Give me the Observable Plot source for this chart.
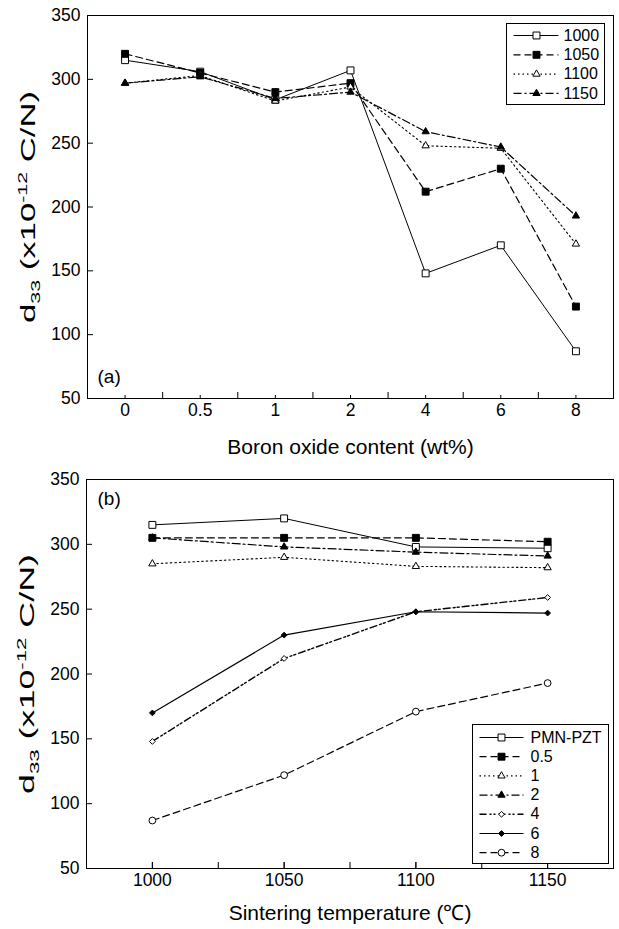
<!DOCTYPE html>
<html><head><meta charset="utf-8">
<script src="https://cdn.jsdelivr.net/npm/d3@7"></script>
<script src="https://cdn.jsdelivr.net/npm/@observablehq/plot@0.6"></script>
<style>
body{margin:0;background:#fff;}
#wrap{position:relative;width:619px;height:929px;font-family:"Liberation Sans",Arial,sans-serif;background:#fff;}
#wrap svg{position:absolute;}
</style></head><body><div id="wrap"></div>
<script>
// ---------- data ----------
// Panel (a): d33 vs boron oxide content, one series per sintering temperature
const wtLabels = ["0", "0.5", "1", "2", "4", "6", "8"];
const seriesA = ["1000", "1050", "1100", "1150"];
const a1000 = [315, 306, 284, 307, 148, 170, 87];
const a1050 = [320, 305, 290, 297, 212, 230, 122];
const a1100 = [297, 303, 283, 294, 248, 246, 171];
const a1150 = [297, 302, 285, 290, 259, 247, 193];
// Panel (b): d33 vs sintering temperature, one series per composition
const temps = [1000, 1050, 1100, 1150];
const seriesB = ["PMN-PZT", "0.5", "1", "2", "4", "6", "8"];
const bPMN = [315, 320, 298, 297];
const b05 = [305, 305, 305, 302];
const b1 = [285, 290, 283, 282];
const b2 = [305, 298, 294, 291];
const b4 = [148, 212, 248, 259];
const b6 = [170, 230, 248, 247];
const b8 = [87, 122, 171, 193];
const yTicks = [50, 100, 150, 200, 250, 300, 350];
const xTicksB = [1000, 1050, 1100, 1150];
const yTitle = "d33 (x10-12 C/N)";

// ---------- styles ----------
const FONT = '"Liberation Sans", Arial, sans-serif';
const stA = [
  {vals: a1000, dash: null, sym: "square", fill: "white", r: 3.9, w: 1},
  {vals: a1050, dash: "7,4", sym: "square", fill: "black", r: 3.9, w: 1.2},
  {vals: a1100, dash: "1.5,3", sym: "triangle", fill: "white", r: 2.7, w: 1.1},
  {vals: a1150, dash: "8,3,2,3", sym: "triangle", fill: "black", r: 2.7, w: 1.2}
];
const stB = [
  {vals: bPMN, dash: null, sym: "square", fill: "white", r: 3.9, w: 1},
  {vals: b05, dash: "7,4", sym: "square", fill: "black", r: 3.9, w: 1.2},
  {vals: b1, dash: "1.5,3", sym: "triangle", fill: "white", r: 2.7, w: 1.1},
  {vals: b2, dash: "8,3,2,3", sym: "triangle", fill: "black", r: 2.7, w: 1.2},
  {vals: b4, dash: "7,3,2,2,2,3", sym: "diamond2", fill: "white", r: 2.6, w: 1.4},
  {vals: b6, dash: null, sym: "diamond2", fill: "black", r: 2.6, w: 1.2},
  {vals: b8, dash: "7,4", sym: "circle", fill: "white", r: 3.4, w: 1.2}
];

const wrap = document.getElementById("wrap");

function seriesMarks(styles, xs) {
  const lines = [], dots = [];
  styles.forEach(st => {
    const data = st.vals.map((v, i) => ({x: xs[i], v}));
    lines.push(Plot.line(data, {x: "x", y: "v", stroke: "#000", strokeWidth: st.w, strokeDasharray: st.dash}));
    dots.push(Plot.dot(data, {x: "x", y: "v", symbol: st.sym, r: st.r, stroke: "#000", strokeWidth: 1, fill: st.fill}));
  });
  return [...lines, ...dots];
}

function yTitleMark() {
  return Plot.text([yTitle], {frameAnchor: "left", dx: -59, rotate: -90, textAnchor: "middle", lineAnchor: "middle", fontSize: 21, fill: "#000"});
}

// rebuild the y title with real subscript / superscript
function richY(svg, len) {
  d3.select(svg).selectAll("text").filter(function () { return this.textContent === yTitle; }).each(function () {
    const t = d3.select(this);
    t.text(null);
    t.append("tspan").text("d");
    t.append("tspan").attr("font-size", "0.62em").attr("dy", 5).text("33");
    t.append("tspan").attr("dy", -5).text(" (x10");
    t.append("tspan").attr("font-size", "0.62em").attr("dy", -8).text("-12");
    t.append("tspan").attr("dy", 8).text(" C/N)");
    t.attr("textLength", len).attr("lengthAdjust", "spacingAndGlyphs");
  });
}

const style = {fontFamily: FONT, fontSize: "17.5px", color: "#000", background: "white", overflow: "visible"};

// ---------- panel (a) ----------
const idx = wtLabels.map((_, i) => i);
const plotA = Plot.plot({
  width: 619, height: 460,
  marginTop: 15, marginBottom: 62, marginLeft: 87, marginRight: 6,
  x: {type: "linear", domain: [-0.5, wtLabels.length - 0.5]},
  y: {domain: [50, 350]},
  style,
  marks: [
    Plot.axisY({ticks: yTicks, tickSize: -6, tickPadding: 13, fontSize: 17.5, label: null, fill: "#000"}),
    Plot.axisX({ticks: idx, tickSize: -3, tickPadding: 8.5, tickFormat: i => wtLabels[i], fontSize: 17.5, label: null, fill: "#000"}),
    Plot.axisX({ticks: idx.slice(0, -1).map(i => i + 0.5), tickSize: -6, tickFormat: () => "", label: null}),
    ...seriesMarks(stA, idx),
    Plot.frame({stroke: "#000", strokeWidth: 1}),
    Plot.text(["(a)"], {frameAnchor: "bottom-left", dx: 10, dy: -22, textAnchor: "start", lineAnchor: "middle", fontSize: 19, fill: "#000"}),
    Plot.text(["Boron oxide content (wt%)"], {frameAnchor: "bottom", dy: 49, lineAnchor: "middle", fontSize: 21, fill: "#000"}),
    yTitleMark()
  ]
});
plotA.style.left = "0px"; plotA.style.top = "0px";
richY(plotA, 232);
wrap.appendChild(plotA);

// ---------- panel (b) ----------
const minorB = d3.range(1000, 1151, 25);
const plotB = Plot.plot({
  width: 619, height: 469,
  marginTop: 19, marginBottom: 61, marginLeft: 86, marginRight: 6,
  x: {domain: [975, 1175]},
  y: {domain: [50, 350]},
  style,
  marks: [
    Plot.axisY({ticks: yTicks, tickSize: -6, tickPadding: 13, fontSize: 17.5, label: null, fill: "#000"}),
    Plot.axisX({ticks: xTicksB, tickSize: -6, tickPadding: 11.5, tickFormat: d => String(d), fontSize: 17.5, label: null, fill: "#000"}),
    Plot.axisX({ticks: minorB, tickSize: -6, tickFormat: () => "", label: null}),
    ...seriesMarks(stB, temps),
    Plot.frame({stroke: "#000", strokeWidth: 1}),
    Plot.text(["(b)"], {frameAnchor: "top-left", dx: 11, dy: 19, textAnchor: "start", lineAnchor: "middle", fontSize: 19, fill: "#000"}),
    Plot.text(["Sintering temperature (\u2103)"], {frameAnchor: "bottom", dy: 45, lineAnchor: "middle", fontSize: 21, fill: "#000"}),
    yTitleMark()
  ]
});
plotB.style.left = "0px"; plotB.style.top = "460px";
richY(plotB, 240);
wrap.appendChild(plotB);

// ---------- legends ----------
function legend(names, styles, w, h, row0, rowStep, lineX1, lineX2, markX, textX, fontSize) {
  const rows = names.map((n, k) => ({n, k, y: row0 + rowStep * k, ...styles[k]}));
  const marks = [Plot.frame({stroke: "#000", strokeWidth: 1, fill: "white"})];
  rows.forEach(r => {
    marks.push(Plot.link([r], {x1: () => lineX1, x2: () => lineX2, y1: "y", y2: "y", stroke: "#000", strokeWidth: r.w, strokeDasharray: r.dash}));
  });
  rows.forEach(r => {
    marks.push(Plot.dot([r], {x: () => markX, y: "y", symbol: r.sym, r: r.r, stroke: "#000", strokeWidth: 1, fill: r.fill}));
  });
  marks.push(Plot.text(rows, {x: () => textX, y: "y", text: "n", textAnchor: "start", lineAnchor: "middle", fontSize, fill: "#000"}));
  return Plot.plot({
    width: w, height: h, margin: 0,
    x: {domain: [0, w], range: [0, w], axis: null},
    y: {domain: [0, h], range: [0, h], axis: null},
    style: {fontFamily: FONT, background: "white", overflow: "visible"},
    marks
  });
}
const legA = legend(seriesA, stA, 98, 81, 12, 19.3, 7, 52, 30, 57, 16);
legA.style.left = "506px"; legA.style.top = "23px";
wrap.appendChild(legA);
const legB = legend(seriesB, stB, 136, 139, 13, 19.2, 7, 51, 29, 58, 16);
legB.style.left = "472px"; legB.style.top = "724px";
wrap.appendChild(legB);
</script>
</body></html>
